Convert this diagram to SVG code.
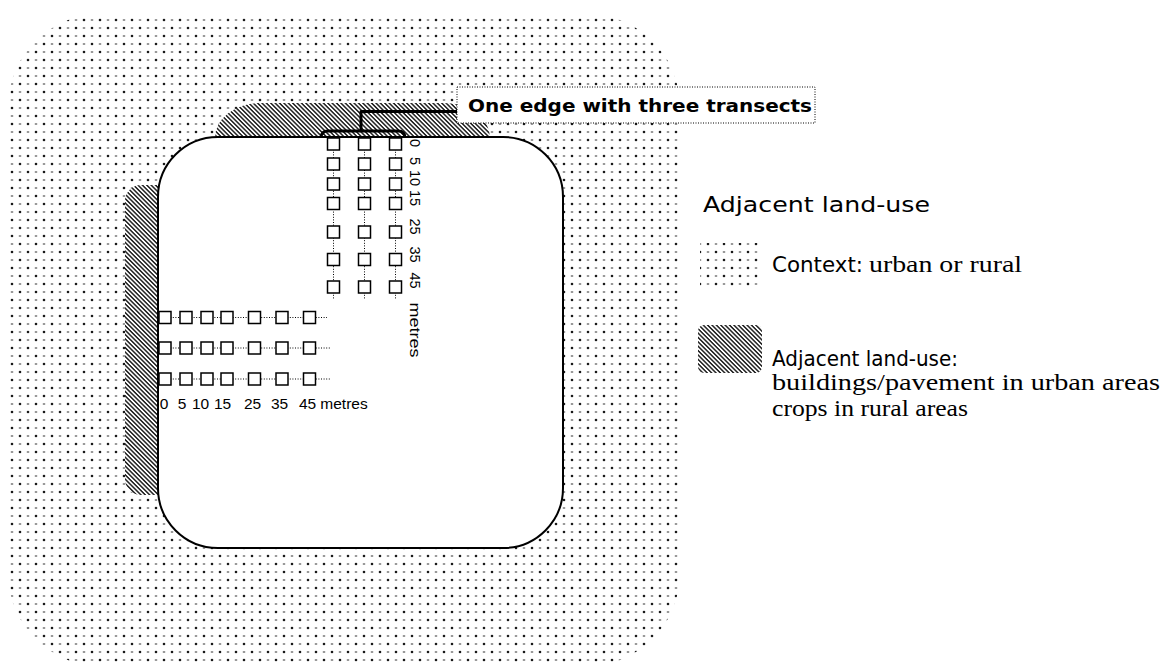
<svg xmlns="http://www.w3.org/2000/svg" width="1166" height="662" viewBox="0 0 1166 662">
<defs>
<pattern id="dots" width="16" height="16" patternUnits="userSpaceOnUse">
<circle cx="4" cy="4" r="1.3" fill="#1a1a1a"/>
<circle cx="12" cy="12" r="1.3" fill="#1a1a1a"/>
<rect x="10.8" y="3.4" width="2.4" height="1.2" fill="#555"/>
<rect x="2.8" y="11.4" width="2.4" height="1.2" fill="#555"/>
</pattern>
<pattern id="hatch" width="3.1" height="3.1" patternUnits="userSpaceOnUse" patternTransform="rotate(-45)">
<rect x="0" y="0" width="3.1" height="3.1" fill="#fff"/>
<line x1="0.8" y1="0" x2="0.8" y2="3.1" stroke="#222" stroke-width="1.5"/>
</pattern>
<style>
.box{fill:#fff;stroke:#000;stroke-width:1.5}
.dl{fill:none;stroke:#000;stroke-width:1;stroke-dasharray:1 1.6}
.br{fill:none;stroke:#000;stroke-width:3;stroke-linejoin:round}
.comic{font-family:"DejaVu Sans","Liberation Sans",sans-serif;fill:#000}
.serif{font-family:"Liberation Serif","Times New Roman",serif;fill:#000;font-size:23px}
.num{font-family:"Liberation Sans","DejaVu Sans",sans-serif;font-size:15.5px;fill:#000;text-anchor:middle}
.vnum{font-size:14.5px}
</style>
</defs>
<rect width="1166" height="662" fill="#fff"/>

<g id="context">
<rect x="8" y="14" width="672" height="652" rx="93" ry="93" fill="url(#dots)"/>
</g>

<g id="adjacent-top">
<rect x="215" y="103" width="275" height="70" rx="45" ry="40" fill="url(#hatch)"/>
</g>
<g id="adjacent-left">
<rect x="125" y="185" width="60" height="310" rx="16" ry="16" fill="url(#hatch)"/>
</g>

<g id="site">
<rect x="158" y="137" width="405" height="411" rx="60" ry="60" fill="#fff" stroke="#000" stroke-width="2"/>
</g>

<g id="connectors">
<line class="dl" x1="333.5" y1="144" x2="333.5" y2="300"/>
<line class="dl" x1="364.5" y1="144" x2="364.5" y2="300"/>
<line class="dl" x1="395.5" y1="144" x2="395.5" y2="300"/>
<line class="dl" x1="165" y1="317.5" x2="327" y2="317.5"/>
<line class="dl" x1="165" y1="348" x2="330" y2="348"/>
<line class="dl" x1="165" y1="379" x2="330" y2="379"/>
<path class="br" d="M321 138 Q321 131 328 131 L398 131 Q405 131 405 138"/>
<path class="br" d="M361 131 L361 111.5 L458 111.5"/>
</g>

<g id="transects-vertical">
<g id="transect-v1">
<rect class="box" x="327.5" y="138" width="12" height="12"/>
<rect class="box" x="327.5" y="158" width="12" height="12"/>
<rect class="box" x="327.5" y="178" width="12" height="12"/>
<rect class="box" x="327.5" y="197.5" width="12" height="12"/>
<rect class="box" x="327.5" y="226" width="12" height="12"/>
<rect class="box" x="327.5" y="253.5" width="12" height="12"/>
<rect class="box" x="327.5" y="281" width="12" height="12"/>
</g>
<g id="transect-v2">
<rect class="box" x="358.5" y="138" width="12" height="12"/>
<rect class="box" x="358.5" y="158" width="12" height="12"/>
<rect class="box" x="358.5" y="178" width="12" height="12"/>
<rect class="box" x="358.5" y="197.5" width="12" height="12"/>
<rect class="box" x="358.5" y="226" width="12" height="12"/>
<rect class="box" x="358.5" y="253.5" width="12" height="12"/>
<rect class="box" x="358.5" y="281" width="12" height="12"/>
</g>
<g id="transect-v3">
<rect class="box" x="389.5" y="138" width="12" height="12"/>
<rect class="box" x="389.5" y="158" width="12" height="12"/>
<rect class="box" x="389.5" y="178" width="12" height="12"/>
<rect class="box" x="389.5" y="197.5" width="12" height="12"/>
<rect class="box" x="389.5" y="226" width="12" height="12"/>
<rect class="box" x="389.5" y="253.5" width="12" height="12"/>
<rect class="box" x="389.5" y="281" width="12" height="12"/>
</g>
<g transform="translate(409.5,0) rotate(90)">
<text class="num vnum" y="0"><tspan x="143">0</tspan><tspan x="161">5</tspan><tspan x="178">10</tspan><tspan x="198">15</tspan><tspan x="226.5">25</tspan><tspan x="254.5">35</tspan><tspan x="280.5">45</tspan></text>
<text class="num" x="330" y="0" textLength="55" lengthAdjust="spacingAndGlyphs">metres</text>
</g>
</g>

<g id="transects-horizontal">
<g id="transect-h1">
<rect class="box" x="159" y="311.5" width="12" height="12"/>
<rect class="box" x="180" y="311.5" width="12" height="12"/>
<rect class="box" x="201" y="311.5" width="12" height="12"/>
<rect class="box" x="221" y="311.5" width="12" height="12"/>
<rect class="box" x="248.5" y="311.5" width="12" height="12"/>
<rect class="box" x="276" y="311.5" width="12" height="12"/>
<rect class="box" x="303.5" y="311.5" width="12" height="12"/>
</g>
<g id="transect-h2">
<rect class="box" x="159" y="342" width="12" height="12"/>
<rect class="box" x="180" y="342" width="12" height="12"/>
<rect class="box" x="201" y="342" width="12" height="12"/>
<rect class="box" x="221" y="342" width="12" height="12"/>
<rect class="box" x="248.5" y="342" width="12" height="12"/>
<rect class="box" x="276" y="342" width="12" height="12"/>
<rect class="box" x="303.5" y="342" width="12" height="12"/>
</g>
<g id="transect-h3">
<rect class="box" x="159" y="373" width="12" height="12"/>
<rect class="box" x="180" y="373" width="12" height="12"/>
<rect class="box" x="201" y="373" width="12" height="12"/>
<rect class="box" x="221" y="373" width="12" height="12"/>
<rect class="box" x="248.5" y="373" width="12" height="12"/>
<rect class="box" x="276" y="373" width="12" height="12"/>
<rect class="box" x="303.5" y="373" width="12" height="12"/>
</g>
<text class="num" y="408.5"><tspan x="164">0</tspan><tspan x="182">5</tspan><tspan x="200.5">10</tspan><tspan x="222.5">15</tspan><tspan x="252.5">25</tspan><tspan x="279.5">35</tspan><tspan x="307.5">45</tspan><tspan x="344">metres</tspan></text>
</g>

<g id="edge-label">
<rect x="457" y="87" width="358" height="36" fill="#fff" stroke="#000" stroke-width="1" stroke-dasharray="1 1.5"/>
<text class="comic" x="468" y="112" font-size="18" font-weight="bold" textLength="344" lengthAdjust="spacingAndGlyphs">One edge with three transects</text>
</g>

<g id="legend">
<text class="comic" x="703" y="212" font-size="21" textLength="227" lengthAdjust="spacingAndGlyphs">Adjacent land-use</text>
<g id="legend-context">
<rect x="700" y="243" width="62" height="47" fill="url(#dots)"/>
<text class="comic" x="772" y="272" font-size="21" textLength="91" lengthAdjust="spacingAndGlyphs">Context:</text>
<text class="serif" x="869" y="272" textLength="153" lengthAdjust="spacingAndGlyphs">urban or rural</text>
</g>
<g id="legend-adjacent">
<rect x="698" y="325" width="64" height="48" rx="6" ry="6" fill="url(#hatch)"/>
<text class="comic" x="772" y="366" font-size="21" textLength="186" lengthAdjust="spacingAndGlyphs">Adjacent land-use:</text>
<text class="serif" x="772" y="390" textLength="388" lengthAdjust="spacingAndGlyphs">buildings/pavement in urban areas</text>
<text class="serif" x="772" y="416" textLength="196" lengthAdjust="spacingAndGlyphs">crops in rural areas</text>
</g>
</g>
</svg>
